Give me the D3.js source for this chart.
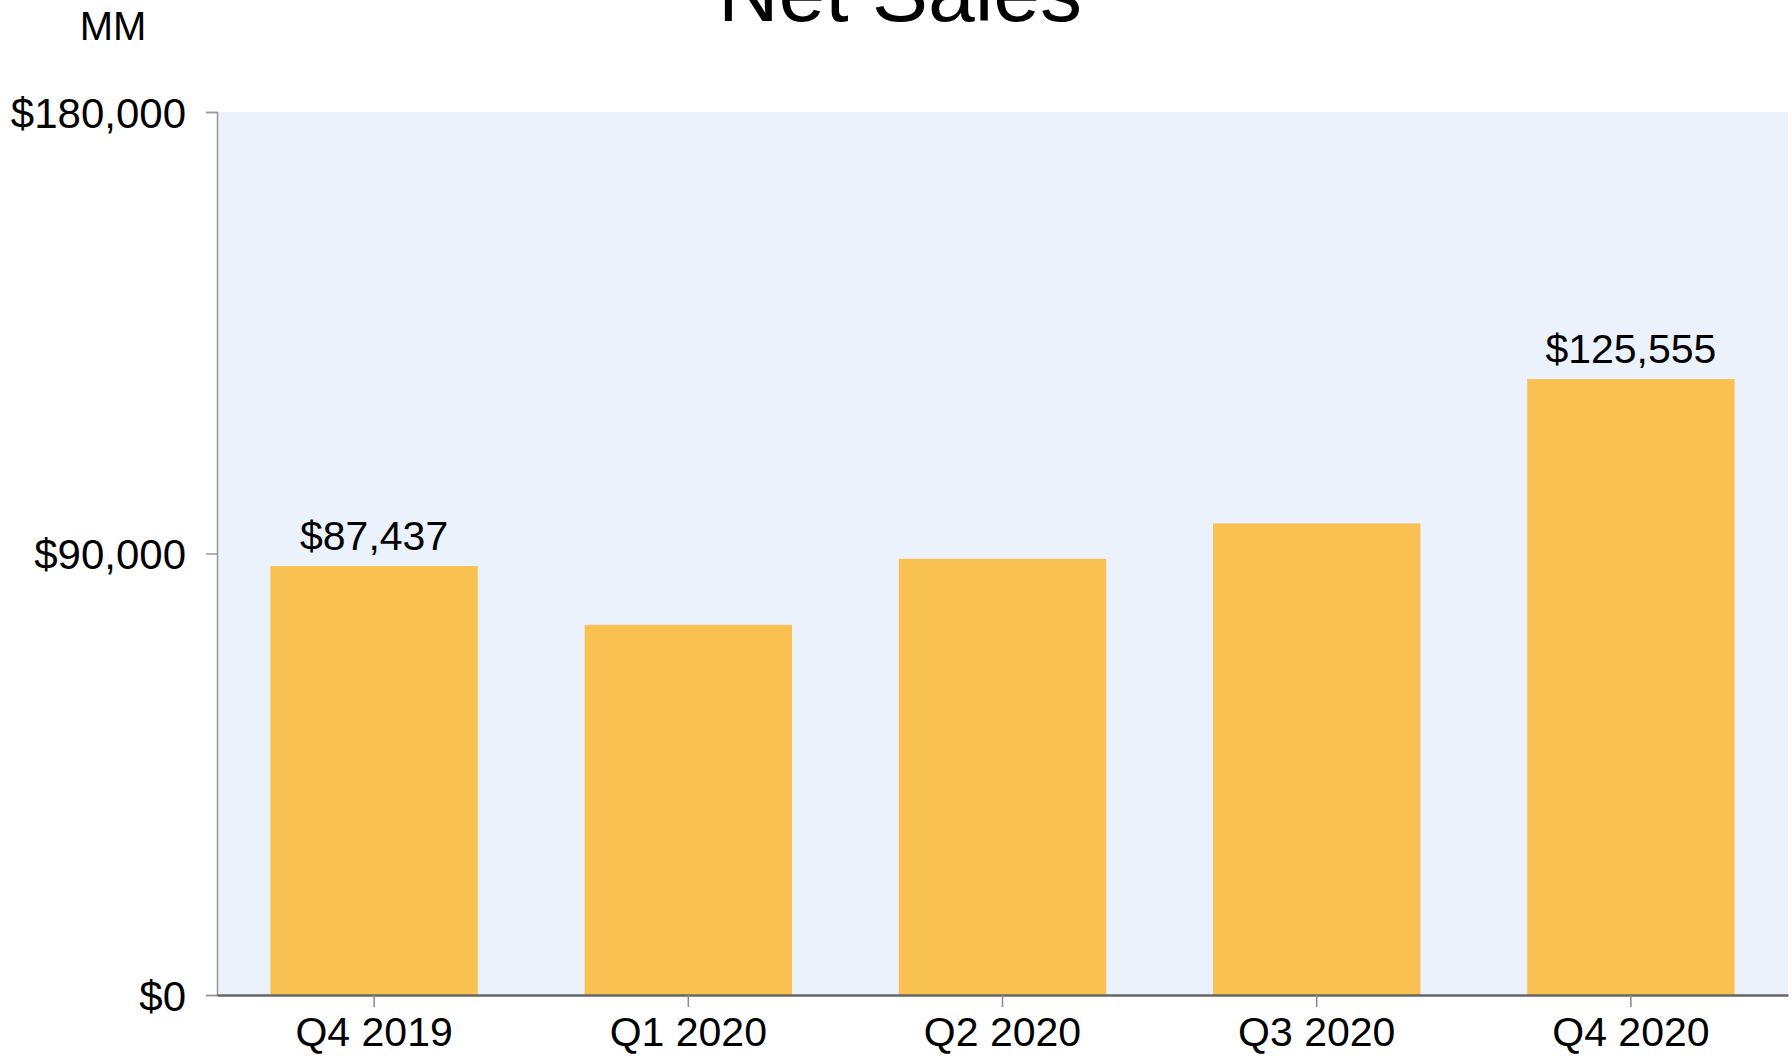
<!DOCTYPE html>
<html>
<head>
  <meta charset="utf-8">
  <title>Net Sales</title>
  <script src="https://d3js.org/d3.v7.min.js"></script>
  <style>
    body { margin: 0; background: #fff; }
    text { font-family: "Liberation Sans", Arial, sans-serif; fill: #000; }
  </style>
</head>
<body>
<script>
var quarters = ['Q4 2019', 'Q1 2020', 'Q2 2020', 'Q3 2020', 'Q4 2020'];
var netSales = [87437, 75452, 88912, 96145, 125555];
var labelled = [true, false, false, false, true];
var yTicks = [0, 90000, 180000];

var width = 1792, height = 1056;
var margin = {top: 112, right: 4, bottom: 61, left: 217};

var svg = d3.select('body').append('svg')
  .attr('width', width)
  .attr('height', height);

var x = d3.scaleBand()
  .domain(quarters)
  .range([margin.left, width - margin.right])
  .paddingInner(0.34)
  .paddingOuter(0.17);

var y = d3.scaleLinear()
  .domain([0, 180000])
  .range([height - margin.bottom, margin.top]);

var fmt = function(d) { return '$' + d3.format(',')(d); };

// plot background
svg.append('rect')
  .attr('x', margin.left)
  .attr('y', margin.top)
  .attr('width', width - margin.right - margin.left)
  .attr('height', height - margin.bottom - margin.top)
  .attr('fill', '#ebf2fc');

// bars
svg.selectAll('rect.bar')
  .data(netSales)
  .enter()
  .append('rect')
  .attr('class', 'bar')
  .attr('x', function(d, i) { return x(quarters[i]); })
  .attr('y', function(d) { return y(d); })
  .attr('width', x.bandwidth())
  .attr('height', function(d) { return y(0) - y(d); })
  .attr('fill', '#f9c151');

// value labels on first and last bar
svg.selectAll('text.val')
  .data(netSales.filter(function(d, i) { return labelled[i]; }))
  .enter()
  .append('text')
  .attr('class', 'val')
  .attr('x', function(d) { return x(quarters[netSales.indexOf(d)]) + x.bandwidth() / 2; })
  .attr('y', function(d) { return y(d) - 16; })
  .attr('text-anchor', 'middle')
  .style('font-size', '41px')
  .text(fmt);

// y axis
var yAxis = svg.append('g')
  .attr('transform', 'translate(' + margin.left + ',0)')
  .call(d3.axisLeft(y).tickValues(yTicks).tickFormat(fmt).tickSize(11).tickPadding(20));
yAxis.select('.domain').attr('stroke', '#999').attr('stroke-width', 1.5);
yAxis.selectAll('.tick line').attr('stroke', '#999').attr('stroke-width', 1.5);
yAxis.selectAll('.tick text').style('font-size', '42px').attr('dy', '0.36em');

// x axis
var xAxis = svg.append('g')
  .attr('transform', 'translate(0,' + (height - margin.bottom) + ')')
  .call(d3.axisBottom(x).tickSize(12).tickSizeOuter(0).tickPadding(10));
xAxis.select('.domain').attr('stroke', '#666').attr('stroke-width', 2.5);
xAxis.selectAll('.tick line').attr('stroke', '#888').attr('stroke-width', 1.5);
xAxis.selectAll('.tick text').style('font-size', '41px').attr('dy', '0.71em');

// title and unit
svg.append('text')
  .attr('x', 900)
  .attr('y', 21)
  .attr('text-anchor', 'middle')
  .style('font-size', '84px')
  .text('Net Sales');

svg.append('text')
  .attr('x', 113)
  .attr('y', 40)
  .attr('text-anchor', 'middle')
  .style('font-size', '40px')
  .text('MM');
</script>
</body>
</html>
